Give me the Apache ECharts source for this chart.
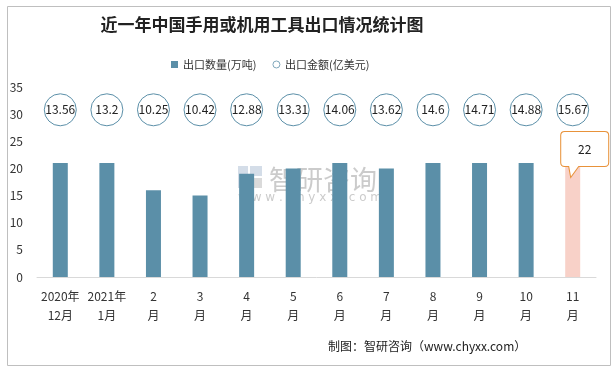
<!DOCTYPE html>
<html><head><meta charset="utf-8">
<script src="https://cdn.jsdelivr.net/npm/echarts@6/dist/echarts.min.js"></script>
<style>html,body{margin:0;padding:0;background:#fff}#c{width:614px;height:369px}</style>
</head><body><div id="c"></div>
<script>
const categories = ['2020年\n12月','2021年\n1月','2\n月','3\n月','4\n月','5\n月','6\n月','7\n月','8\n月','9\n月','10\n月','11\n月'];
const volume = [21, 21, 16, 15, 19, 20, 21, 20, 21, 21, 21, 22];
const amount = [13.56, 13.2, 10.25, 10.42, 12.88, 13.31, 14.06, 13.62, 14.6, 14.71, 14.88, 15.67];
const yTicks = [0, 5, 10, 15, 20, 25, 30, 35];

const CIRCLE_Y = 30.8;
const barColor = '#5b8fa8';
const font = '"Noto Sans CJK SC", "Noto Sans", sans-serif';

const chart = echarts.init(document.getElementById('c'));
const last = volume.length - 1;
chart.setOption({
  animation: false,
  graphic: [
    { type: 'rect', left: 5, top: 4, shape: { width: 603, height: 359 }, style: { fill: 'none', stroke: '#bfbfbf', lineWidth: 1 }, silent: true, z: -1 },
    { type: 'text', x: 262, y: 16, silent: true,
      style: { text: '近一年中国手用或机用工具出口情况统计图', align: 'center', font: 'bold 17px "Noto Sans CJK SC"', fill: '#222' } },
    { type: 'group', left: 238, top: 166, silent: true, z: 1, children: [
      { type: 'rect', shape: { x: 0, y: 0, width: 10, height: 22 }, style: { fill: 'rgba(160,180,205,0.45)' } },
      { type: 'rect', shape: { x: 12, y: 0, width: 12, height: 10 }, style: { fill: 'rgba(160,180,205,0.45)' } },
      { type: 'rect', shape: { x: 12, y: 12, width: 12, height: 10 }, style: { fill: 'rgba(150,150,150,0.35)' } },
      { type: 'text', x: 31, y: 0, style: { text: '智研咨询', font: '27px "Noto Sans CJK SC"', fill: 'rgba(140,140,140,0.45)' } },
      { type: 'text', x: 0, y: 26, style: { text: 'w w w . c h y x x . c o m', font: '12px "DejaVu Sans"', fill: 'rgba(140,140,140,0.45)' } }
    ]},
    { type: 'text', left: 328, top: 340, silent: true,
      style: { text: '制图：智研咨询（www.chyxx.com）', font: '12px "Noto Sans CJK SC"', fill: '#222' } }
  ],
  legend: {
    left: 166, top: 54, itemWidth: 7, itemHeight: 7, itemGap: 16,
    textStyle: { fontFamily: font, fontSize: 11, color: '#333' },
    data: [
      { name: '出口数量(万吨)', icon: 'rect' },
      { name: '出口金额(亿美元)', icon: 'circle', itemStyle: { color: '#fff', borderColor: '#7fa7bb', borderWidth: 1 } }
    ]
  },
  grid: { left: 37, right: 18, top: 87, bottom: 92 },
  xAxis: {
    type: 'category', data: categories,
    axisLine: { lineStyle: { color: '#d9d9d9' } },
    axisTick: { show: false },
    axisLabel: { fontFamily: font, fontSize: 12, color: '#333', lineHeight: 19, margin: 10, interval: 0 }
  },
  yAxis: {
    type: 'value', min: 0, max: 35, interval: 5,
    axisLine: { show: false }, axisTick: { show: false }, splitLine: { show: false },
    axisLabel: { fontFamily: font, fontSize: 12, color: '#333', margin: 14,
      formatter: v => yTicks.includes(v) ? String(v) : '' }
  },
  series: [
    {
      name: '出口数量(万吨)', type: 'bar', barWidth: 15,
      data: volume.map((v, i) => i === last ? { value: v, itemStyle: { color: '#f8d1c8' } } : v),
      itemStyle: { color: barColor },
      markPoint: {
        silent: true,
        data: [{ coord: [last, volume[last]], value: volume[last] }],
        symbol: 'path://M4,0 H44 Q48,0 48,4 V31 Q48,35 44,35 H18 L10,46 L8,35 H4 Q0,35 0,31 V4 Q0,0 4,0 Z',
        symbolSize: [48, 46],
        symbolOffset: [12, -3],
        itemStyle: { color: '#fff', borderColor: '#e8923a', borderWidth: 1 },
        label: { show: true, color: '#222', fontFamily: font, fontSize: 12, offset: [0, -5] }
      },
      z: 2
    },
    {
      name: '出口金额(亿美元)', type: 'scatter', symbol: 'circle', symbolSize: 32,
      data: amount.map((v, i) => ({ value: [i, CIRCLE_Y] })),
      itemStyle: { color: '#fff', borderColor: '#5b8fa8', borderWidth: 1, opacity: 1 },
      label: { show: true, position: 'inside', color: '#222', fontFamily: font, fontSize: 12,
        formatter: p => String(amount[p.dataIndex]) },
      z: 3
    }
  ]
});
</script></body></html>
